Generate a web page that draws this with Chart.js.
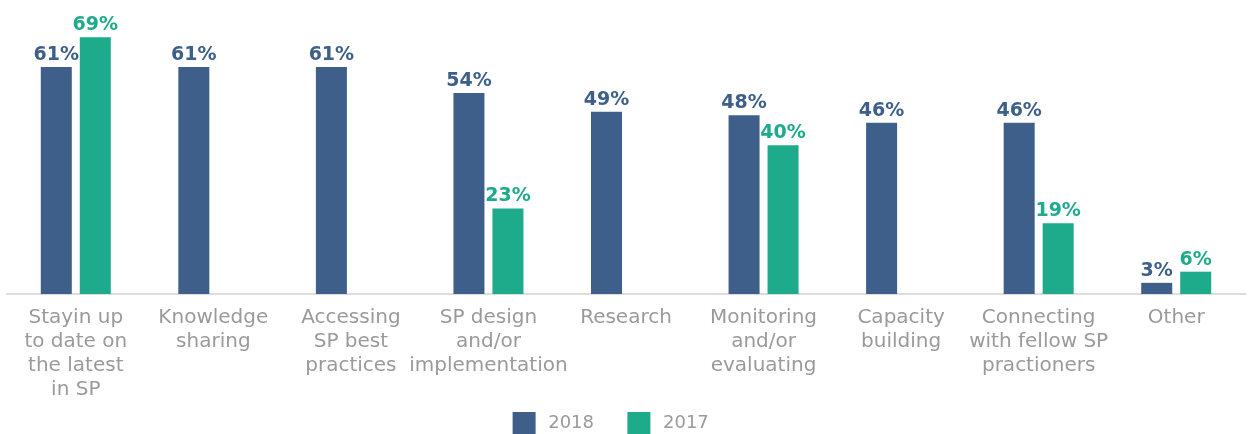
<!DOCTYPE html>
<html>
<head>
<meta charset="utf-8">
<script src="https://cdn.jsdelivr.net/npm/chart.js@4"></script>
<style>
html,body{margin:0;padding:0;background:#fff;}
#wrap{width:1251px;height:434px;position:relative;}
</style>
</head>
<body>
<div id="wrap"><canvas id="c"></canvas></div>
<script>
const categories = [
  ["Stayin up", "to date on", "the latest", "in SP"],
  ["Knowledge", "sharing"],
  ["Accessing", "SP best", "practices"],
  ["SP design", "and/or", "implementation"],
  ["Research"],
  ["Monitoring", "and/or", "evaluating"],
  ["Capacity", "building"],
  ["Connecting", "with fellow SP", "practioners"],
  ["Other"]
];
const values2018 = [61, 61, 61, 54, 49, 48, 46, 46, 3];
const values2017 = [69, null, null, 23, null, 40, null, 19, 6];
const seriesNames = ["2018", "2017"];
const colors = ["#3d5f8a", "#1dab8c"];

const FONT = "'DejaVu Sans', sans-serif";

const labelPlugin = {
  id: 'valueLabels',
  afterDatasetsDraw(chart) {
    const ctx = chart.ctx;
    ctx.save();
    ctx.font = "bold 19px " + FONT;
    ctx.textAlign = 'center';
    ctx.textBaseline = 'alphabetic';
    chart.data.datasets.forEach((ds, di) => {
      const meta = chart.getDatasetMeta(di);
      meta.data.forEach((bar, i) => {
        const v = ds.data[i];
        if (v === null || v === undefined) return;
        ctx.fillStyle = colors[di];
        ctx.fillText(v + "%", bar.x, bar.y - 7);
      });
    });
    ctx.restore();
  }
};

new Chart(document.getElementById('c'), {
  type: 'bar',
  data: {
    labels: categories,
    datasets: [
      { label: seriesNames[0], data: values2018, backgroundColor: colors[0] },
      { label: seriesNames[1], data: values2017, backgroundColor: colors[1] }
    ]
  },
  options: {
    responsive: true,
    maintainAspectRatio: false,
    animation: false,
    datasets: { bar: { categoryPercentage: 0.567, barPercentage: 0.795 } },
    layout: { padding: { left: 7, right: 6, top: 0, bottom: -10 } },
    scales: {
      x: {
        grid: { display: false, drawTicks: false },
        border: { display: true, color: '#dddddd', width: 2 },
        ticks: {
          color: '#9a9a9a',
          font: { family: FONT, size: 20, weight: 'normal', lineHeight: 1.2 },
          padding: 12,
          maxRotation: 0,
          autoSkip: false
        },
        afterFit(scale) { scale.height = scale.height - 12; }
      },
      y: {
        display: false,
        min: 0,
        max: 79
      }
    },
    plugins: {
      legend: {
        position: 'bottom',
        labels: {
          boxWidth: 23,
          boxHeight: 22,
          padding: 10,
          color: '#9a9a9a',
          font: { family: FONT, size: 18, weight: 'normal' },
          generateLabels(chart) {
            const items = Chart.defaults.plugins.legend.labels.generateLabels(chart);
            items.forEach((it, i) => {
              it.text = "\u2009" + it.text + (i < items.length - 1 ? "\u2002\u2002\u2009\u200a" : "\u2002\u2002\u2002\u2009");
              it.fontColor = '#9a9a9a';
            });
            return items;
          }
        }
      },
      tooltip: { enabled: false }
    }
  },
  plugins: [labelPlugin]
});
</script>
</body>
</html>
